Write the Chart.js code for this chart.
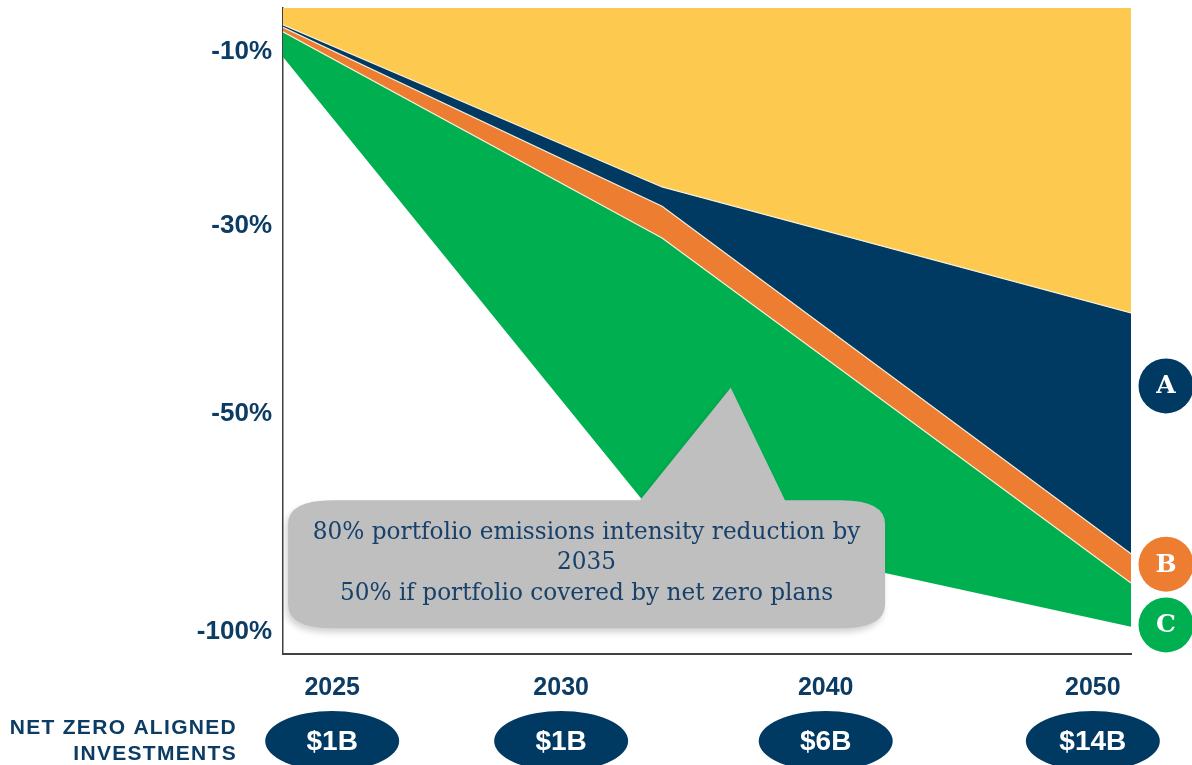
<!DOCTYPE html>
<html>
<head>
<meta charset="utf-8">
<script src="https://cdn.jsdelivr.net/npm/chart.js@4.4.1/dist/chart.umd.min.js"></script>
<style>
  html, body { margin: 0; padding: 0; background: #fff; }
  #wrap { width: 1192px; height: 765px; }
</style>
</head>
<body>
<div id="wrap"><canvas id="pathwayChart" width="1192" height="765"></canvas></div>
<script>
// positions along the timeline (0 = start of the plot, 100 = end)
const timeline = [0, 44.7, 100];

// boundary of each band, in chart units (0 = top, -100 = bottom)
const navyTop = [-2.6, -27.7, -47.2];
const orangeTop = [-3.0, -30.7, -84.5];
const greenTop = [-3.7, -35.6, -89.0];
const greenBottom = [-7.6, -79.9, -95.8];

// axis ticks (the picture's axes are not evenly spaced)
const xTickValues = [5.8, 32.8, 64.0, 95.5];
const xTickLabels = ["2025", "2030", "2040", "2050"];
const investments = ["$1B", "$1B", "$6B", "$14B"];

const yTickValues = [-6.8, -33.75, -62.85, -96.6];
const yTickLabels = ["-10%", "-30%", "-50%", "-100%"];

const calloutLines = [
  "80% portfolio emissions intensity reduction by",
  "2035",
  "50% if portfolio covered by net zero plans",
];

const NAVY = "#003a63";
const TEXT = "#0c3b63";
const YELLOW = "#fdca4f";
const ORANGE = "#ed7d31";
const GREEN = "#00b050";
const SEP = "#f4efd8";
const SANS = "'Liberation Sans', Arial, sans-serif";
const SERIF = "'DejaVu Serif', Georgia, serif";

function toPoints(values) {
  return values.map((v, i) => ({ x: timeline[i], y: v }));
}

// draws the callout, the A/B/C badges and the investment ellipses
const overlay = {
  id: "overlay",
  afterDatasetsDraw(chart) {
    const ctx = chart.ctx;
    const xs = chart.scales.x;
    const ys = chart.scales.y;
    // callout box, placed in chart units
    const L = xs.getPixelForValue(0.6);
    const R = xs.getPixelForValue(71);
    const T = ys.getPixelForValue(-76.2);
    const B = ys.getPixelForValue(-96);
    const tipX = xs.getPixelForValue(52.8);
    const tipY = ys.getPixelForValue(-58.8);
    const baseL = xs.getPixelForValue(42.1);
    const baseR = xs.getPixelForValue(59.2);
    const rx = 44, ry = 24;

    ctx.save();
    ctx.beginPath();
    ctx.moveTo(L + rx, T);
    ctx.lineTo(baseL, T);
    ctx.lineTo(tipX, tipY);
    ctx.lineTo(baseR, T);
    ctx.lineTo(R - rx, T);
    ctx.quadraticCurveTo(R, T, R, T + ry);
    ctx.lineTo(R, B - ry);
    ctx.quadraticCurveTo(R, B, R - rx, B);
    ctx.lineTo(L + rx, B);
    ctx.quadraticCurveTo(L, B, L, B - ry);
    ctx.lineTo(L, T + ry);
    ctx.quadraticCurveTo(L, T, L + rx, T);
    ctx.closePath();
    ctx.shadowColor = "rgba(0,0,0,0.18)";
    ctx.shadowBlur = 6;
    ctx.shadowOffsetX = -2;
    ctx.shadowOffsetY = 4;
    ctx.fillStyle = "#bfbfbf";
    ctx.fill();
    ctx.restore();

    // fit the first line to the box width
    ctx.save();
    let size = 24;
    ctx.font = size + "px " + SERIF;
    const w = ctx.measureText(calloutLines[0]).width;
    size = size * 548 / w;
    ctx.font = size + "px " + SERIF;
    ctx.fillStyle = "#17406b";
    ctx.textAlign = "center";
    ctx.textBaseline = "middle";
    const cx = (L + R) / 2;
    const cy = (T + B) / 2 - 1;
    calloutLines.forEach((line, i) => {
      ctx.fillText(line, cx, cy + (i - 1) * 30.7);
    });
    ctx.restore();
  },
  afterDraw(chart) {
    const ctx = chart.ctx;
    const xs = chart.scales.x;
    const ys = chart.scales.y;
    const area = chart.chartArea;

    // A / B / C badges at the right edge
    const badges = [
      { text: "A", y: -58.5, color: NAVY },
      { text: "B", y: -86.1, color: ORANGE },
      { text: "C", y: -95.5, color: GREEN },
    ];
    ctx.save();
    badges.forEach((b) => {
      const bx = area.right + 35;
      const by = ys.getPixelForValue(b.y);
      ctx.beginPath();
      ctx.arc(bx, by, 27.5, 0, Math.PI * 2);
      ctx.fillStyle = b.color;
      ctx.fill();
      ctx.fillStyle = "#ffffff";
      ctx.font = "bold 25px " + SERIF;
      ctx.textAlign = "center";
      ctx.textBaseline = "middle";
      ctx.fillText(b.text, bx, by + 1);
    });
    ctx.restore();

    // net zero aligned investments under each year
    ctx.save();
    investments.forEach((label, i) => {
      const ex = xs.getPixelForValue(xTickValues[i]);
      const ey = 741;
      ctx.beginPath();
      ctx.ellipse(ex, ey, 67, 30, 0, 0, Math.PI * 2);
      ctx.fillStyle = NAVY;
      ctx.fill();
      ctx.fillStyle = "#ffffff";
      ctx.font = "bold 28px " + SANS;
      ctx.textAlign = "center";
      ctx.textBaseline = "middle";
      ctx.fillText(label, ex, ey + 1);
    });

    ctx.fillStyle = TEXT;
    ctx.font = "bold 21px " + SANS;
    ctx.letterSpacing = "1.3px";
    ctx.textAlign = "right";
    ctx.textBaseline = "middle";
    ctx.fillText("NET ZERO ALIGNED", 237, 728);
    ctx.fillText("INVESTMENTS", 237, 754);
    ctx.restore();
  },
};

const ctx = document.getElementById("pathwayChart");

const pathwayChart = new Chart(ctx, {
  type: "line",
  data: {
    datasets: [
      {
        // yellow band above the navy line
        data: toPoints(navyTop),
        fill: "end",
        backgroundColor: YELLOW,
        borderWidth: 0,
      },
      {
        data: toPoints(navyTop),
        fill: 2,
        backgroundColor: NAVY,
        borderColor: SEP,
        borderWidth: 1.2,
      },
      {
        data: toPoints(orangeTop),
        fill: 3,
        backgroundColor: ORANGE,
        borderColor: SEP,
        borderWidth: 1.2,
      },
      {
        data: toPoints(greenTop),
        fill: 4,
        backgroundColor: GREEN,
        borderColor: SEP,
        borderWidth: 1.2,
      },
      {
        data: toPoints(greenBottom),
        fill: false,
        borderWidth: 0,
      },
    ],
  },
  options: {
    responsive: false,
    maintainAspectRatio: false,
    animation: false,
    layout: {
      padding: { top: 8, right: 61, left: 0, bottom: 0 },
    },
    elements: {
      point: { radius: 0 },
      line: { tension: 0 },
    },
    scales: {
      x: {
        type: "linear",
        min: 0,
        max: 100,
        z: 1,
        grid: { display: false },
        border: { display: true, color: "#404040", width: 2 },
        afterBuildTicks: (scale) => {
          scale.ticks = xTickValues.map((v) => ({ value: v }));
        },
        afterFit: (scale) => {
          scale.height = 111;
          scale.paddingLeft = 0;
          scale.paddingRight = 0;
        },
        ticks: {
          autoSkip: false,
          maxRotation: 0,
          padding: 11,
          color: TEXT,
          font: { family: SANS, size: 25, weight: "bold" },
          callback: function (value, index) {
            return xTickLabels[index];
          },
        },
      },
      y: {
        type: "linear",
        min: -100,
        max: 0,
        z: 1,
        grid: { display: false },
        border: { display: true, color: "#404040", width: 1.5 },
        afterBuildTicks: (scale) => {
          scale.ticks = yTickValues.map((v) => ({ value: v }));
        },
        afterFit: (scale) => {
          scale.width = 283;
          scale.paddingTop = 0;
          scale.paddingBottom = 0;
        },
        ticks: {
          autoSkip: false,
          padding: 3,
          color: TEXT,
          font: { family: SANS, size: 26, weight: "bold" },
          callback: function (value, index) {
            return yTickLabels[index];
          },
        },
      },
    },
    plugins: {
      legend: { display: false },
      tooltip: { enabled: false },
      filler: { propagate: false, drawTime: "beforeDatasetsDraw" },
    },
  },
  plugins: [overlay],
});
</script>
</body>
</html>
